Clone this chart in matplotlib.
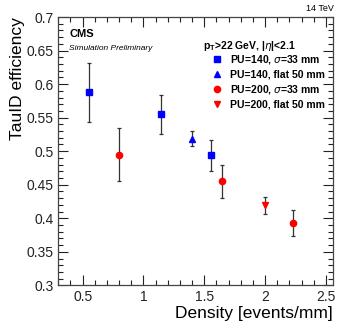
import matplotlib
matplotlib.use('Agg')
from matplotlib import pyplot as plt
from matplotlib.ticker import MultipleLocator

plt.rcParams['font.family'] = ['Liberation Sans', 'DejaVu Sans']
plt.rcParams['mathtext.fontset'] = 'custom'
plt.rcParams['mathtext.rm'] = 'Liberation Sans'
plt.rcParams['mathtext.bf'] = 'Liberation Sans:bold'

# PU=140, sigma=33 mm
pu140_x = [0.554, 1.143, 1.555]
pu140_y = [0.588, 0.555, 0.494]
pu140_up = [0.044, 0.029, 0.023]
pu140_dn = [0.044, 0.029, 0.023]

# PU=140, flat 50 mm
pu140f_x = [1.40]
pu140f_y = [0.518]
pu140f_up = [0.012]
pu140f_dn = [0.011]

# PU=200, sigma=33 mm
pu200_x = [0.80, 1.648, 2.23]
pu200_y = [0.495, 0.455, 0.393]
pu200_up = [0.039, 0.024, 0.019]
pu200_dn = [0.040, 0.025, 0.019]

# PU=200, flat 50 mm
pu200f_x = [2.0]
pu200f_y = [0.420]
pu200f_up = [0.012]
pu200f_dn = [0.014]

labels = ['PU=140, $\\sigma$=33 mm', 'PU=140, flat 50 mm',
          'PU=200, $\\sigma$=33 mm', 'PU=200, flat 50 mm']

fig = plt.figure(figsize=(3.39, 3.21), dpi=100)
ax = fig.add_axes([0.172, 0.111, 0.811, 0.836])

series = [
    (pu140_x, pu140_y, pu140_dn, pu140_up, 's', 'blue', 4.5),
    (pu140f_x, pu140f_y, pu140f_dn, pu140f_up, '^', 'blue', 5),
    (pu200_x, pu200_y, pu200_dn, pu200_up, 'o', 'red', 4.5),
    (pu200f_x, pu200f_y, pu200f_dn, pu200f_up, 'v', 'red', 5),
]
handles = []
for x, y, dn, up, m, c, ms in series:
    ax.errorbar(x, y, yerr=[dn, up], fmt='none', ecolor='#333333',
                elinewidth=0.9, capsize=1.5, capthick=0.9)
    h, = ax.plot(x, y, m, color=c, markersize=ms, linestyle='none')
    handles.append(h)

ax.set_xlim(0.3, 2.56)
ax.set_ylim(0.3, 0.7)
ax.xaxis.set_major_locator(MultipleLocator(0.5))
ax.xaxis.set_minor_locator(MultipleLocator(0.1))
ax.yaxis.set_major_locator(MultipleLocator(0.05))
ax.yaxis.set_minor_locator(MultipleLocator(0.01))
ax.tick_params(which='both', direction='in', top=True, right=True,
               labelsize=10, colors='#222222', width=0.8)
ax.tick_params(which='major', length=7)
ax.tick_params(which='minor', length=3.5)
ax.set_yticks([0.3, 0.35, 0.4, 0.45, 0.5, 0.55, 0.6, 0.65, 0.7])
ax.set_yticklabels(['0.3', '0.35', '0.4', '0.45', '0.5', '0.55', '0.6', '0.65', '0.7'])
ax.set_xticks([0.5, 1, 1.5, 2, 2.5])
ax.set_xticklabels(['0.5', '1', '1.5', '2', '2.5'])
for s in ax.spines.values():
    s.set_linewidth(0.9)
    s.set_color('#444444')

ax.set_ylabel('TauID efficiency', fontsize=12.5, loc='top', labelpad=1)
ax.set_xlabel('Density [events/mm]', fontsize=12.5, loc='right', labelpad=1)

fig.text(0.985, 0.96, '14 TeV', ha='right', va='bottom', fontsize=6.5)
ax.text(0.04, 0.955, 'CMS', transform=ax.transAxes, fontsize=8,
        fontweight='bold', va='top')
ax.text(0.04, 0.895, 'Simulation Preliminary', transform=ax.transAxes,
        fontsize=6, style='italic', va='top')

# legend header drawn as its own text, entries below it
ax.text(0.526, 0.893, '$\\mathbf{p_{T}}$>22 GeV, |$\\eta$|<2.1',
        transform=ax.transAxes, fontsize=7.5, fontweight='bold', va='center')
leg = ax.legend(handles, labels, loc='upper left', bbox_to_anchor=(0.552, 0.866),
                frameon=False, prop={'weight': 'bold', 'size': 7.5},
                handletextpad=0.6, labelspacing=0.35, borderaxespad=0,
                borderpad=0, handlelength=1.3)

fig.savefig('out.png', dpi=100)
